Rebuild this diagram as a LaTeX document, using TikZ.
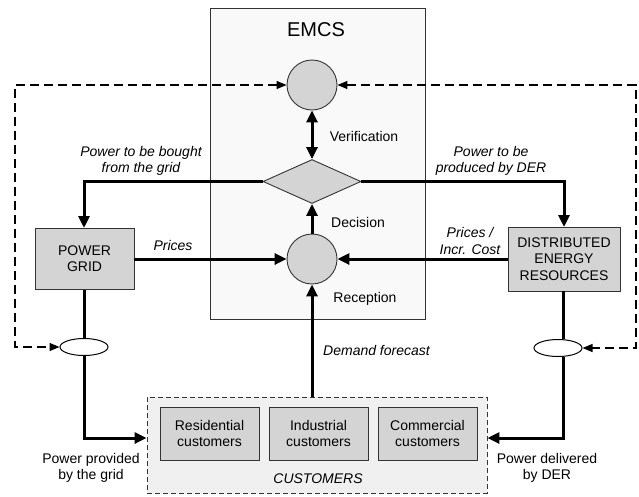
\documentclass[tikz,border=0pt]{standalone}
\usepackage{fontspec}
\setmainfont{Liberation Sans}
\usetikzlibrary{arrows.meta,shapes.geometric,calc}
\definecolor{boxgray}{RGB}{212,212,212}
\definecolor{emcsfill}{RGB}{249,249,249}
\definecolor{custfill}{RGB}{240,240,240}
\begin{document}
\begin{tikzpicture}[x=1pt,y=-1pt,
  every node/.style={font=\fontsize{14}{16.3}\selectfont},
  lbl/.style={align=center,inner sep=0pt},
  ilbl/.style={align=center,inner sep=0pt,font=\fontsize{14}{16.3}\selectfont\itshape},
  graybox/.style={draw=black!80,line width=0.9pt,fill=boxgray,align=center,inner sep=0pt},
  proc/.style={circle,draw=black!80,line width=0.9pt,fill=boxgray,minimum size=50pt,inner sep=0pt},
  junc/.style={ellipse,draw=black,line width=1pt,fill=white,minimum width=48pt,minimum height=17pt,inner sep=0pt},
  flow/.style={line width=3pt,-{Triangle[length=12pt,width=11pt]}},
  flowline/.style={line width=3pt},
  ctrl/.style={line width=1.3pt,dash pattern=on 9pt off 5pt,{Triangle[length=10pt,width=8pt]}-{Triangle[length=10pt,width=8pt]}}
]
\useasboundingbox (0,0) rectangle (639,496);
% EMCS frame
\node[draw=black!80,line width=0.9pt,fill=emcsfill,minimum width=215pt,minimum height=311pt,inner sep=0pt] (emcs) at (317.5,163.5) {};
\node[lbl,font=\fontsize{20}{24}\selectfont] (emcst) at (316,30) {EMCS};
% customers frame
\node[draw=black!80,line width=0.9pt,dash pattern=on 5pt off 3pt,fill=custfill,minimum width=340pt,minimum height=96pt,inner sep=0pt] (cust) at (317,445) {};
\node[graybox,minimum width=99pt,minimum height=53pt] (res) at (209.5,433.5) {Residential\\customers};
\node[graybox,minimum width=99pt,minimum height=53pt] (ind) at (318.5,433.5) {Industrial\\customers};
\node[graybox,minimum width=99pt,minimum height=53pt] (com) at (427.5,433.5) {Commercial\\customers};
\node[ilbl] (custt) at (318,479) {CUSTOMERS};
% processes
\node[proc] (ver) at (312,85) {};
\node[diamond,draw=black!80,line width=0.9pt,fill=boxgray,minimum width=98pt,minimum height=44pt,inner sep=0pt] (dec) at (312,181.5) {};
\node[proc] (rec) at (312,259) {};
\node[lbl] (vert) at (364,136) {Verification};
\node[lbl] (dect) at (358,222) {Decision};
\node[lbl] (rect) at (365,299) {Reception};
% sources
\node[graybox,minimum width=99pt,minimum height=61pt] (grid) at (84.5,259) {POWER\\GRID};
\node[graybox,minimum width=112pt,minimum height=64pt] (der) at (564,259) {DISTRIBUTED\\ENERGY\\RESOURCES};
\node[junc] (e1) at (84,347) {};
\node[junc] (e2) at (558,348) {};
% labels
\node[ilbl] (l1) at (141,161) {Power to be bought\\from the grid};
\node[ilbl] (l2) at (491,161) {Power to be\\produced by DER};
\node[ilbl] (l3) at (173,245) {Prices};
\node[ilbl] (l4) at (470,241) {Prices /\\Incr. Cost};
\node[ilbl,anchor=west] (l5) at (323,350) {Demand forecast};
\node[lbl] (l6) at (91,468) {Power provided\\by the grid};
\node[lbl] (l7) at (547,468) {Power delivered\\by DER};
% coordinates
\coordinate (gtop) at (84,228);
\coordinate (dtop) at (564,227);
\coordinate (gbend) at (84,438);
\coordinate (dbend) at (563,438);
\coordinate (lt) at (15,85);
\coordinate (lb) at (15,347);
\coordinate (rt) at (636,85);
\coordinate (rb) at (636,348);
% flows
\draw[line width=3pt,{Triangle[length=12pt,width=11pt]}-{Triangle[length=12pt,width=11pt]}] (ver.south) -- (dec.north);
\draw[flow] (rec.north) -- (dec.south);
\draw[flow] (dec.west) -| (gtop);
\draw[flow] (dec.east) -| (dtop);
\draw[flow] (grid.east) -- (rec.west);
\draw[flow] (der.west) -- (rec.east);
\draw[flow] (rec.south |- cust.north) -- (rec.south);
\draw[flowline] (grid.south -| e1.north) -- (e1.north);
\draw[flow] (e1.south) -- (gbend) -- (gbend -| cust.west);
\draw[flowline] (dbend |- der.south) -- (dbend |- e2.north);
\draw[flow] (dbend |- e2.south) -- (dbend) -- (dbend -| cust.east);
% control
\draw[ctrl] (ver.west) -- (lt) -- (lb) -- (e1.west);
\draw[ctrl] (ver.east) -- (rt) -- (rb) -- (e2.east);
\end{tikzpicture}
\end{document}
